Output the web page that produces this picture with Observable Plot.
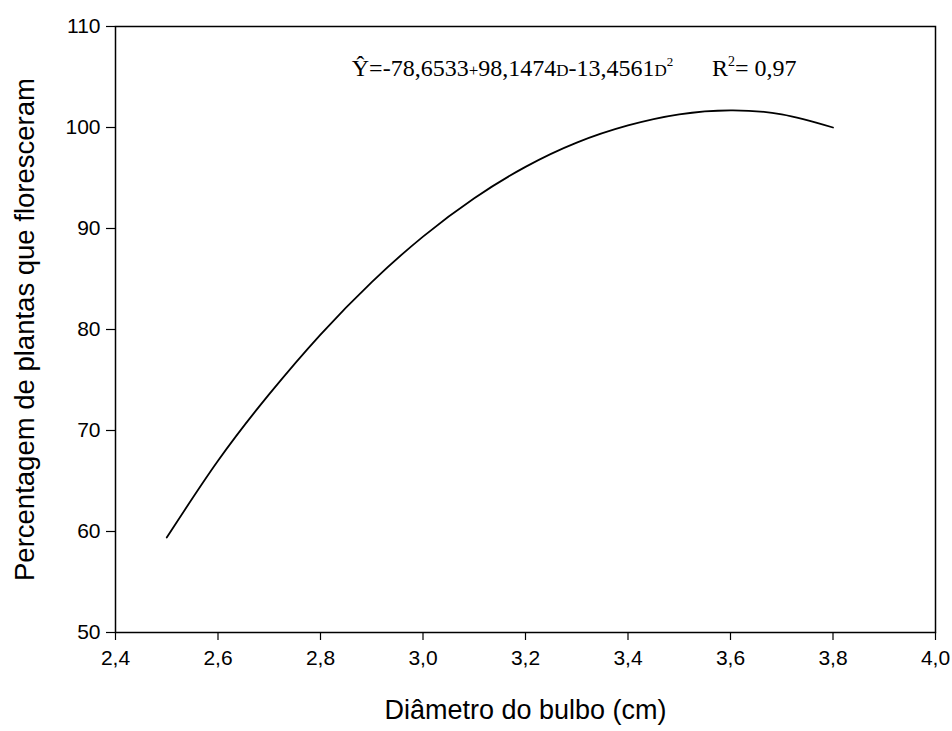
<!DOCTYPE html>
<html>
<head>
<meta charset="utf-8">
<script src="https://cdn.jsdelivr.net/npm/d3@7"></script>
<script src="https://cdn.jsdelivr.net/npm/@observablehq/plot@0.6"></script>
<style>
  html, body { margin: 0; padding: 0; background: #fff; }
  #chart svg { display: block; }
</style>
</head>
<body>
<div id="chart"></div>
<script>
// Diameter of bulb (cm) and fitted percentage of plants that flowered
const diametro = [2.5, 2.6, 2.7, 2.8, 2.9, 3.0, 3.1, 3.2, 3.3, 3.4, 3.5, 3.6, 3.7, 3.8];
const percentagem = [59.4, 67.0, 73.6, 79.5, 84.7, 89.2, 93.0, 96.1, 98.5, 100.2, 101.3, 101.7, 101.3, 100.0];

const xTicks = [2.4, 2.6, 2.8, 3.0, 3.2, 3.4, 3.6, 3.8, 4.0];
const yTicks = [50, 60, 70, 80, 90, 100, 110];

const xLabel = "Diâmetro do bulbo (cm)";
const yLabel = "Percentagem de plantas que floresceram";

const data = diametro.map((d, i) => ({d, p: percentagem[i]}));
const fmt = v => v.toFixed(1).replace(".", ",");

const plot = Plot.plot({
  width: 952,
  height: 731,
  marginLeft: 115,
  marginRight: 17,
  marginTop: 26,
  marginBottom: 99,
  style: {fontFamily: "'Liberation Sans', Arial, sans-serif", color: "#000", background: "#fff"},
  x: {domain: [2.4, 4.0]},
  y: {domain: [50, 110]},
  marks: [
    Plot.frame({stroke: "#000", strokeWidth: 1.5}),
    Plot.axisX({ticks: xTicks, tickFormat: fmt, tickSize: 8, tickPadding: 10, fontSize: 21, label: null, strokeWidth: 1.2}),
    Plot.axisY({ticks: yTicks, tickSize: 9, tickPadding: 6, fontSize: 21, label: null, strokeWidth: 1.2}),
    Plot.line(data, {x: "d", y: "p", curve: "natural", stroke: "#000", strokeWidth: 1.8}),
    Plot.text([xLabel], {frameAnchor: "bottom", dy: 86, fontSize: 27, fill: "#000"}),
    Plot.text([yLabel], {frameAnchor: "left", textAnchor: "middle", dx: -90, rotate: -90, fontSize: 27.5, fill: "#000"})
  ]
});

document.getElementById("chart").appendChild(plot);

// Equation annotation
const sx = plot.scale("x"), sy = plot.scale("y");
const svg = d3.select(plot);
const ey = sy.apply(105.05);
const eq = svg.append("text")
  .attr("x", sx.apply(2.862)).attr("y", ey)
  .attr("text-anchor", "start")
  .attr("font-family", "'Liberation Serif', 'Times New Roman', serif")
  .attr("font-size", 24).attr("fill", "#000");
eq.append("tspan").text("Ŷ=-78,6533");
eq.append("tspan").attr("font-size", 17).text("+");
eq.append("tspan").text("98,1474");
eq.append("tspan").attr("font-size", 17).text("D");
eq.append("tspan").text("-13,4561");
eq.append("tspan").attr("font-size", 17).text("D");
eq.append("tspan").attr("font-size", 13).attr("dy", -10).text("2");

const r = svg.append("text")
  .attr("x", sx.apply(3.565)).attr("y", ey)
  .attr("text-anchor", "start")
  .attr("font-family", "'Liberation Serif', 'Times New Roman', serif")
  .attr("font-size", 24).attr("fill", "#000");
r.append("tspan").text("R");
r.append("tspan").attr("font-size", 14).attr("dy", -10).text("2");
r.append("tspan").attr("dy", 10).text("= 0,97");
</script>
</body>
</html>
